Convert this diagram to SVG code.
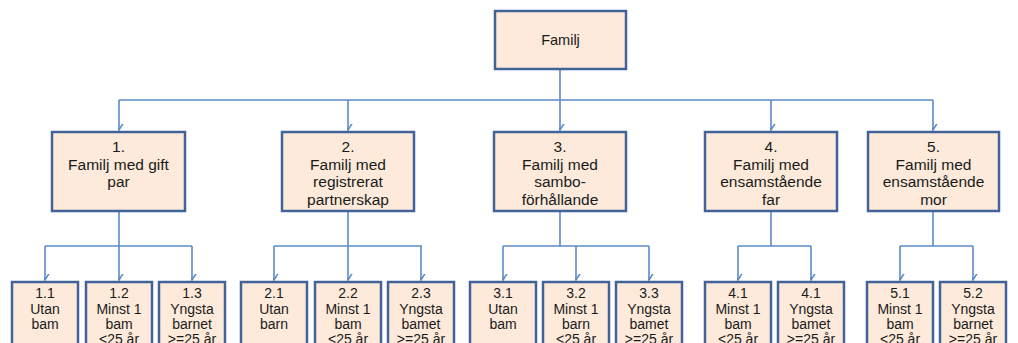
<svg xmlns="http://www.w3.org/2000/svg" width="1018" height="343" viewBox="0 0 1018 343">
  <style>
    .box { fill: #FDEADA; stroke: #41639A; stroke-width: 2.5; }
    .conn { fill: none; stroke: #5B8BC9; stroke-width: 1.6; }
    .t { font-family: "Liberation Sans", Arial, sans-serif; fill: #1A1A1A; text-anchor: middle; }
    .t1 { font-size: 14.5px; }
    .t2 { font-size: 15.5px; }
    .t3 { font-size: 14px; }
  </style>
  <defs>
    <marker id="arrow" viewBox="-6 -9 12 10" markerWidth="12" markerHeight="10" refX="0" refY="0" orient="auto-start-reverse" markerUnits="userSpaceOnUse">
      <path d="M-5,-8 L0,0 L5,-8" transform="rotate(-90)" fill="none" stroke="#5B8BC9" stroke-width="1.6"/>
    </marker>
  </defs>

  <!-- connectors -->
  <g id="connectors" class="conn">
    <path d="M560,69 V100 M119,100 H933"/>
    <path d="M119,100 V130" marker-end="url(#arrow)"/>
    <path d="M348,100 V130" marker-end="url(#arrow)"/>
    <path d="M560,100 V130" marker-end="url(#arrow)"/>
    <path d="M771,100 V130" marker-end="url(#arrow)"/>
    <path d="M933,100 V130" marker-end="url(#arrow)"/>

    <path d="M119,211 V246 M45,246 H192"/>
    <path d="M348,211 V246 M274,246 H422"/>
    <path d="M560,211 V246 M503,246 H649"/>
    <path d="M771,211 V246 M738,246 H811"/>
    <path d="M933,211 V246 M900,246 H973"/>

    <path d="M45,246 V280" marker-end="url(#arrow)"/>
    <path d="M119,246 V280" marker-end="url(#arrow)"/>
    <path d="M192,246 V280" marker-end="url(#arrow)"/>
    <path d="M274,246 V280" marker-end="url(#arrow)"/>
    <path d="M348,246 V280" marker-end="url(#arrow)"/>
    <path d="M421,246 V280" marker-end="url(#arrow)"/>
    <path d="M503,246 V280" marker-end="url(#arrow)"/>
    <path d="M576,246 V280" marker-end="url(#arrow)"/>
    <path d="M649,246 V280" marker-end="url(#arrow)"/>
    <path d="M738,246 V280" marker-end="url(#arrow)"/>
    <path d="M811,246 V280" marker-end="url(#arrow)"/>
    <path d="M900,246 V280" marker-end="url(#arrow)"/>
    <path d="M973,246 V280" marker-end="url(#arrow)"/>
  </g>

  <!-- root -->
  <g id="familj">
    <rect class="box" x="495" y="11" width="131" height="58"/>
    <text class="t t1" x="560.5" y="45">Familj</text>
  </g>

  <!-- family types -->
  <g id="n1">
    <rect class="box" x="52" y="132" width="133" height="79"/>
    <text class="t t2" x="118.5"><tspan x="118.5" y="152">1.</tspan><tspan x="118.5" y="169.5">Familj med gift</tspan><tspan x="118.5" y="187">par</tspan></text>
  </g>
  <g id="n2">
    <rect class="box" x="282" y="132" width="132" height="79"/>
    <text class="t t2"><tspan x="348" y="152">2.</tspan><tspan x="348" y="169.5">Familj med</tspan><tspan x="348" y="187">registrerat</tspan><tspan x="348" y="204.5">partnerskap</tspan></text>
  </g>
  <g id="n3">
    <rect class="box" x="494" y="132" width="132" height="79"/>
    <text class="t t2"><tspan x="560" y="152">3.</tspan><tspan x="560" y="169.5">Familj med</tspan><tspan x="560" y="187">sambo-</tspan><tspan x="560" y="204.5">förhållande</tspan></text>
  </g>
  <g id="n4">
    <rect class="box" x="705" y="132" width="132" height="79"/>
    <text class="t t2"><tspan x="771" y="152">4.</tspan><tspan x="771" y="169.5">Familj med</tspan><tspan x="771" y="187">ensamstående</tspan><tspan x="771" y="204.5">far</tspan></text>
  </g>
  <g id="n5">
    <rect class="box" x="868" y="132" width="131" height="79"/>
    <text class="t t2"><tspan x="933.5" y="152">5.</tspan><tspan x="933.5" y="169.5">Familj med</tspan><tspan x="933.5" y="187">ensamstående</tspan><tspan x="933.5" y="204.5">mor</tspan></text>
  </g>

  <!-- subcategories -->
  <g id="n1-1">
    <rect class="box" x="12" y="282" width="66" height="80"/>
    <text class="t t3"><tspan x="45" y="298">1.1</tspan><tspan x="45" y="313.5">Utan</tspan><tspan x="45" y="329">bam</tspan></text>
  </g>
  <g id="n1-2">
    <rect class="box" x="86" y="282" width="66" height="80"/>
    <text class="t t3"><tspan x="119" y="298">1.2</tspan><tspan x="119" y="313.5">Minst 1</tspan><tspan x="119" y="329">bam</tspan><tspan x="119" y="344">&lt;25 år</tspan></text>
  </g>
  <g id="n1-3">
    <rect class="box" x="159" y="282" width="66" height="80"/>
    <text class="t t3"><tspan x="192" y="298">1.3</tspan><tspan x="192" y="313.5">Yngsta</tspan><tspan x="192" y="329">barnet</tspan><tspan x="192" y="344">&gt;=25 år</tspan></text>
  </g>
  <g id="n2-1">
    <rect class="box" x="241" y="282" width="66" height="80"/>
    <text class="t t3"><tspan x="274" y="298">2.1</tspan><tspan x="274" y="313.5">Utan</tspan><tspan x="274" y="329">barn</tspan></text>
  </g>
  <g id="n2-2">
    <rect class="box" x="315" y="282" width="66" height="80"/>
    <text class="t t3"><tspan x="348" y="298">2.2</tspan><tspan x="348" y="313.5">Minst 1</tspan><tspan x="348" y="329">bam</tspan><tspan x="348" y="344">&lt;25 år</tspan></text>
  </g>
  <g id="n2-3">
    <rect class="box" x="388" y="282" width="66" height="80"/>
    <text class="t t3"><tspan x="421" y="298">2.3</tspan><tspan x="421" y="313.5">Yngsta</tspan><tspan x="421" y="329">bamet</tspan><tspan x="421" y="344">&gt;=25 år</tspan></text>
  </g>
  <g id="n3-1">
    <rect class="box" x="470" y="282" width="66" height="80"/>
    <text class="t t3"><tspan x="503" y="298">3.1</tspan><tspan x="503" y="313.5">Utan</tspan><tspan x="503" y="329">bam</tspan></text>
  </g>
  <g id="n3-2">
    <rect class="box" x="543" y="282" width="66" height="80"/>
    <text class="t t3"><tspan x="576" y="298">3.2</tspan><tspan x="576" y="313.5">Minst 1</tspan><tspan x="576" y="329">barn</tspan><tspan x="576" y="344">&lt;25 år</tspan></text>
  </g>
  <g id="n3-3">
    <rect class="box" x="616" y="282" width="66" height="80"/>
    <text class="t t3"><tspan x="649" y="298">3.3</tspan><tspan x="649" y="313.5">Yngsta</tspan><tspan x="649" y="329">bamet</tspan><tspan x="649" y="344">&gt;=25 år</tspan></text>
  </g>
  <g id="n4-1">
    <rect class="box" x="705" y="282" width="66" height="80"/>
    <text class="t t3"><tspan x="738" y="298">4.1</tspan><tspan x="738" y="313.5">Minst 1</tspan><tspan x="738" y="329">bam</tspan><tspan x="738" y="344">&lt;25 år</tspan></text>
  </g>
  <g id="n4-2">
    <rect class="box" x="778" y="282" width="66" height="80"/>
    <text class="t t3"><tspan x="811" y="298">4.1</tspan><tspan x="811" y="313.5">Yngsta</tspan><tspan x="811" y="329">bamet</tspan><tspan x="811" y="344">&gt;=25 år</tspan></text>
  </g>
  <g id="n5-1">
    <rect class="box" x="867" y="282" width="66" height="80"/>
    <text class="t t3"><tspan x="900" y="298">5.1</tspan><tspan x="900" y="313.5">Minst 1</tspan><tspan x="900" y="329">bam</tspan><tspan x="900" y="344">&lt;25 år</tspan></text>
  </g>
  <g id="n5-2">
    <rect class="box" x="940" y="282" width="66" height="80"/>
    <text class="t t3"><tspan x="973" y="298">5.2</tspan><tspan x="973" y="313.5">Yngsta</tspan><tspan x="973" y="329">barnet</tspan><tspan x="973" y="344">&gt;=25 år</tspan></text>
  </g>
</svg>
